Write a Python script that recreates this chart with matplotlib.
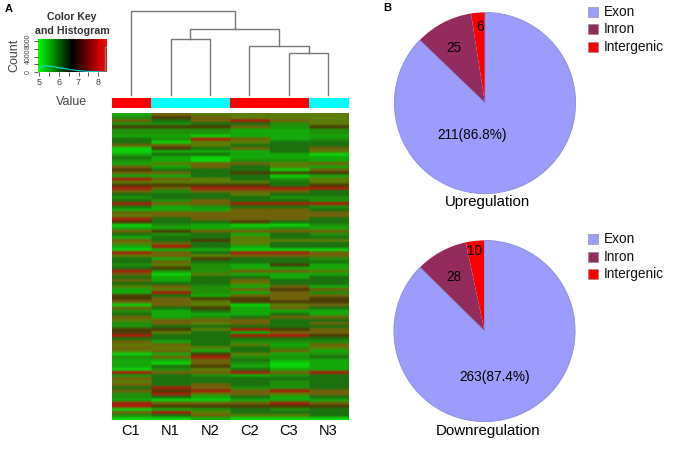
#!/usr/bin/env python
# -*- coding: utf-8 -*-
import numpy as np
from matplotlib import pyplot as plt
from matplotlib.colors import ListedColormap, LinearSegmentedColormap

plt.rcParams['font.family'] = ['Liberation Sans', 'DejaVu Sans']

W, H = 674, 449

#------------------------------------ DATA ------------------------------------
samples = ['C1', 'N1', 'N2', 'C2', 'C3', 'N3']
groups = [1, 0, 0, 1, 1, 0]  # 1 = red bar, 0 = cyan bar

# one string per heatmap row, one digit per sample
# 0 bright green .. 3 dark green, 4 olive, 5 brown, 6 dark brown, 7 red
heat_rows = [
    '154444', '265444', '535754', '223324', '666526', '222112', '222112', '110111', '327512', '304433',
    '554333', '063535', '011134', '133110', '310111', '210221', '145545', '515341', '633305', '553666',
    '113301', '754324', '444434', '666636', '757777', '525553', '333433', '233322', '325332', '755777',
    '312332', '111553', '555555', '455555', '735553', '633633', '021002', '111121', '565555', '323132',
    '133433', '536444', '453433', '173133', '011000', '753775', '454555', '316332', '353333', '242161',
    '362111', '722554', '504111', '313313', '513533', '333433', '452151', '142565', '172152', '631555',
    '656656', '554666', '054045', '536153', '213111', '311131', '512355', '455533', '254535', '233333',
    '664765', '643155', '733776', '333333', '513222', '453415', '544324', '451351', '016412', '257223',
    '115311', '105201', '136101', '024311', '755757', '232123', '533333', '433323', '535323', '375223',
    '567575', '274545', '231313', '100111', '755575', '766666', '012323', '574333', '235443', '001000',
]
heat_colors = ['#0cd20a', '#14a80a', '#1f8f0a', '#1c720e', '#5a7d05',
               '#70620a', '#4c3c05', '#a8200a']

# dendrogram: [left x, right x, height, left height, right height], x in leaf units
merges = [
    [4.0, 5.0, 42, 0, 0],
    [3.0, 4.5, 49, 0, 42],
    [1.0, 2.0, 56, 0, 0],
    [1.5, 3.75, 66, 56, 49],
    [0.0, 2.625, 84, 0, 66],
]

# colour key histogram
hist_value = [5.0, 5.1, 5.2, 5.3, 5.5, 5.7, 6.0, 6.3, 6.6, 7.0, 7.5, 8.0, 8.3]
hist_count = [900, 1400, 1300, 1700, 1500, 1400, 1100, 900, 600, 350, 150, 60, 30]

# pies
pie_labels = ['Exon', 'Inron', 'Intergenic']
pie_colors = ['#9c9cfc', '#932c5c', '#fc0000']
up_counts = [211, 25, 6]
down_counts = [263, 28, 10]


#----------------------------------- HELPERS ----------------------------------
def axes_px(fig, x0, y0, x1, y1):
    """Axes from pixel box, y measured from the top of the picture"""
    return fig.add_axes([x0/W, 1-y1/H, (x1-x0)/W, (y1-y0)/H])


def draw_pie(fig, counts, cx, cy, r):
    ax = axes_px(fig, cx-r, cy-r, cx+r, cy+r)
    # counter clockwise from the top: intergenic, intron, exon
    wedges, _ = ax.pie(counts[::-1], colors=pie_colors[::-1], startangle=90, radius=1.0,
                       wedgeprops={'linewidth': 0})
    wedges[2].set_edgecolor('#8a8ae0')
    wedges[2].set_linewidth(0.6)
    ax.set_xlim(-1.01, 1.01)
    ax.set_ylim(-1.01, 1.01)
    ax.set_zorder(1)


def main():
    fig = plt.figure(figsize=(W/100, H/100), dpi=100)

    # ----- Overlay in pixel coordinates for all the loose text
    ax_txt = fig.add_axes([0, 0, 1, 1])
    ax_txt.set_xlim(0, W)
    ax_txt.set_ylim(H, 0)
    ax_txt.axis('off')
    ax_txt.set_zorder(5)

    # ----- Heatmap, widened so that only the rows get blurred and not the columns
    ax = axes_px(fig, 111.5, 113, 348, 420)
    matrix = np.array([[int(c) for c in row] for row in heat_rows])
    matrix = np.repeat(matrix, 40, axis=1)
    ax.imshow(matrix, cmap=ListedColormap(heat_colors), vmin=-0.5, vmax=7.5,
              aspect='auto', interpolation='bilinear', interpolation_stage='rgba')
    ax.axis('off')

    # ----- Sample colour bar
    ax = axes_px(fig, 111.5, 98, 348, 108)
    ax.imshow([groups], cmap=ListedColormap(['#00ffff', '#ff0000']), aspect='auto',
              interpolation='nearest')
    ax.axis('off')

    # ----- Dendrogram
    ax = axes_px(fig, 111.5, 5, 348, 95)
    for (xl, xr, h, hl, hr) in merges:
        ax.plot([xl, xl, xr, xr], [hl, h, h, hr], color='#777777', lw=1.0,
                solid_joinstyle='miter', clip_on=False)
    ax.set_xlim(-0.5, 5.5)
    ax.set_ylim(0, 90)
    ax.axis('off')

    # ----- Colour key
    ax = axes_px(fig, 37.7, 39, 106.5, 72)
    cmap_key = LinearSegmentedColormap.from_list('key', ['#00ff00', '#000000', '#ff0000'])
    ax.imshow([np.linspace(0, 1, 200)], cmap=cmap_key, aspect='auto',
              extent=[4.93, 8.42, 0, 8600])
    ax.plot(hist_value, hist_count, color='#00d8d8', lw=0.8)
    ax.plot([8.34, 8.34, 8.42], [0, 6400, 6400], color='#808080', lw=1)
    ax.set_xlim(4.93, 8.42)
    ax.set_ylim(0, 8600)
    ax.set_xticks(np.arange(5, 8.5, 0.5), labels=['5', '', '6', '', '7', '', '8'])
    ax.set_yticks([0, 2000, 4000, 6000, 8000], labels=['0', '', '4000', '', '8000'])
    ax.tick_params(axis='x', labelsize=6.5, length=3, width=0.7, color='#555555',
                   labelcolor='#444444', pad=1)
    ax.tick_params(axis='y', labelsize=5, length=3, width=0.7, color='#555555',
                   labelcolor='#444444', pad=1)
    for label in ax.get_yticklabels():
        label.set_rotation(90)
        label.set_va('center')
    for spine in ax.spines.values():
        spine.set_visible(False)

    # ----- Pies
    draw_pie(fig, up_counts, 485, 103, 91.5)
    draw_pie(fig, down_counts, 484.5, 331, 91.5)

    # ----- Legends, as the squares sit away from the pies
    for y_list in ([12, 29, 47], [239, 257, 274]):
        for (y, name, color) in zip(y_list, pie_labels, pie_colors):
            ax_txt.scatter([593], [y], s=46, marker='s', color=color,
                           edgecolors='#888888', linewidths=0.4)
            ax_txt.text(604, y, name, fontsize=9.8, va='center', color='#111111')

    # ----- Text
    text = ax_txt.text
    text(9, 9, 'A', fontsize=8, fontweight='bold', ha='center', va='center')
    text(387, 8, 'B', fontsize=8, fontweight='bold', ha='center', va='center')
    text(72, 17.5, 'Color Key', fontsize=7.6, fontweight='bold', ha='center', va='center',
         color='#333333')
    text(72, 30.5, 'and Histogram', fontsize=7.7, fontweight='bold', ha='center', va='center',
         color='#333333')
    text(14.5, 55, 'Count', fontsize=9, rotation=90, ha='center', va='center', color='#444444')
    text(72, 102, 'Value', fontsize=9, ha='center', va='center', color='#444444')
    for (i, name) in enumerate(samples):
        text(131 + i*39.5, 431, name, fontsize=10.5, ha='center', va='center')
    text(454, 48, str(up_counts[1]), fontsize=9.8, ha='center', va='center')
    text(480, 27, str(up_counts[2]), fontsize=9.8, ha='center', va='center')
    text(472, 135, '211(86.8%)', fontsize=9.8, ha='center', va='center')
    text(488, 202, 'Upregulation', fontsize=10.8, ha='center', va='center')
    text(454, 277, str(down_counts[1]), fontsize=9.8, ha='center', va='center')
    text(475, 251, str(down_counts[2]), fontsize=9.8, ha='center', va='center')
    text(495, 377, '263(87.4%)', fontsize=9.8, ha='center', va='center')
    text(488, 431, 'Downregulation', fontsize=10.8, ha='center', va='center')

    fig.savefig('out.png', dpi=100)


if __name__ == '__main__':
    main()
